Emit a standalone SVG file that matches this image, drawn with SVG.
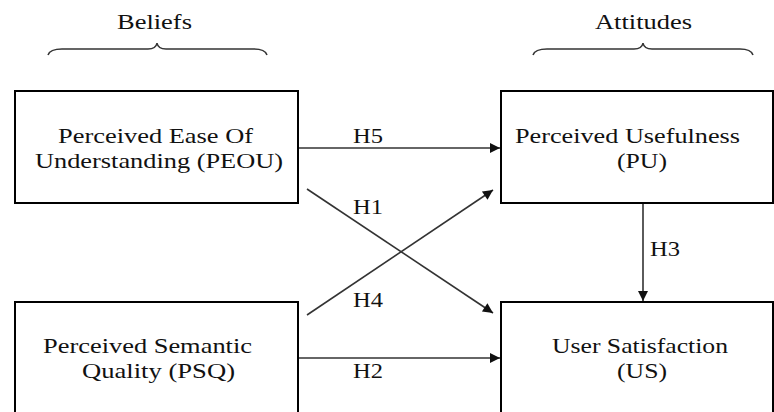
<svg xmlns="http://www.w3.org/2000/svg" width="774" height="412" viewBox="0 0 774 412">
  <style>
    .lbl { text-anchor: middle; }
    .box { fill: #fff; stroke: #000; stroke-width: 2; }
    .conn { stroke: #333; stroke-width: 1.6; fill: none; marker-end: url(#arrow); }
    .brace { stroke: #333; stroke-width: 1.5; fill: none; }
  </style>
  <defs>
    <marker id="arrow" viewBox="0 0 10 10" refX="10" refY="5" markerWidth="15" markerHeight="10" markerUnits="userSpaceOnUse" orient="auto">
      <path d="M0,0 L10,5 L0,10 z" fill="#111"/>
    </marker>
  </defs>
  <rect width="774" height="412" fill="#fff"/>

  <g font-family="'Liberation Serif', 'DejaVu Serif', serif" font-size="22" fill="#111">
    <!-- group headings -->
    <g id="beliefs">
      <text x="117" y="29" textLength="75" lengthAdjust="spacingAndGlyphs">Beliefs</text>
      <path class="brace" d="M48,55 Q50,49 62,49 L148,49 Q156,49 157,43 Q158,49 166,49 L254,49 Q265,49 267,55"/>
    </g>
    <g id="attitudes">
      <text x="595" y="29" textLength="97" lengthAdjust="spacingAndGlyphs">Attitudes</text>
      <path class="brace" d="M533,55 Q535,49 547,49 L634,49 Q642,49 643,43 Q644,49 652,49 L740,49 Q751,49 753,55"/>
    </g>

    <!-- connectors -->
    <g id="connectors">
      <line class="conn" x1="298" y1="148" x2="500" y2="148"/>
      <line class="conn" x1="307" y1="189" x2="493" y2="313"/>
      <line class="conn" x1="307" y1="315" x2="493" y2="190"/>
      <line class="conn" x1="298" y1="358" x2="500" y2="358"/>
      <line class="conn" x1="643" y1="203" x2="643" y2="301"/>
      <text x="353" y="143" textLength="30" lengthAdjust="spacingAndGlyphs">H5</text>
      <text x="353" y="214" textLength="30" lengthAdjust="spacingAndGlyphs">H1</text>
      <text x="353" y="307" textLength="30" lengthAdjust="spacingAndGlyphs">H4</text>
      <text x="353" y="378" textLength="30" lengthAdjust="spacingAndGlyphs">H2</text>
      <text x="650" y="256" textLength="30" lengthAdjust="spacingAndGlyphs">H3</text>
    </g>

    <!-- nodes -->
    <g id="peou">
      <rect class="box" x="15" y="91" width="283" height="112"/>
      <text x="58" y="143" textLength="195" lengthAdjust="spacingAndGlyphs">Perceived Ease Of</text>
      <text x="35" y="168" textLength="248" lengthAdjust="spacingAndGlyphs">Understanding (PEOU)</text>
    </g>
    <g id="pu">
      <rect class="box" x="501" y="91" width="272" height="112"/>
      <text x="515" y="143" textLength="225" lengthAdjust="spacingAndGlyphs">Perceived Usefulness</text>
      <text x="617" y="168" textLength="50" lengthAdjust="spacingAndGlyphs">(PU)</text>
    </g>
    <g id="psq">
      <rect class="box" x="15" y="302" width="283" height="120"/>
      <text x="43" y="353" textLength="209" lengthAdjust="spacingAndGlyphs">Perceived Semantic</text>
      <text x="82" y="378" textLength="153" lengthAdjust="spacingAndGlyphs">Quality (PSQ)</text>
    </g>
    <g id="us">
      <rect class="box" x="501" y="302" width="272" height="120"/>
      <text x="552" y="353" textLength="176" lengthAdjust="spacingAndGlyphs">User Satisfaction</text>
      <text x="617" y="378" textLength="50" lengthAdjust="spacingAndGlyphs">(US)</text>
    </g>
  </g>
</svg>
